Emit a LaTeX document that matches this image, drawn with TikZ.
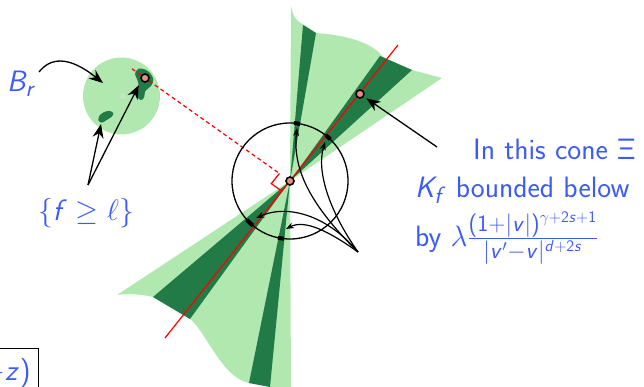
\RequirePackage{fix-cm}
\documentclass[tikz,border=0pt]{standalone}
\usepackage{amsmath}
\usetikzlibrary{arrows.meta,calc}
\DeclareMathAlphabet{\mathsfit}{OT1}{cmss}{m}{sl}
\SetSymbolFont{operators}{normal}{OT1}{cmss}{m}{n}
\DeclareMathSizes{29.5}{29.5}{23.5}{16}
\definecolor{lgreen}{RGB}{176,232,176}
\definecolor{dgreen}{RGB}{34,122,70}
\definecolor{tblue}{RGB}{60,90,245}
\definecolor{ptfill}{RGB}{230,140,140}
\tikzset{
  lbl/.style={font=\fontsize{29.5}{34}\selectfont\sffamily, text=tblue, inner sep=0pt},
  ptmark/.style={circle, draw=black, line width=1.6pt, fill=ptfill, minimum size=8pt, inner sep=0pt},
  bigarrow/.style={line width=1.3pt, -{Stealth[length=14pt,width=11pt]}},
  smallarrow/.style={line width=1.2pt, -{Stealth[length=8pt,width=6pt]}},
  thickseg/.style={line width=4pt},
  redline/.style={red, line width=1.2pt},
}
\begin{document}
\begin{tikzpicture}[x=1pt,y=-1pt]
\useasboundingbox (0,0) rectangle (644,387);
\clip (0,0) rectangle (644,387);
% coordinates
\coordinate (C) at (290,181);
\coordinate (R1) at (165,338);
\coordinate (R2) at (398,45);
\coordinate (Q) at (145,78);
\coordinate (S) at (358,252);
\coordinate (F) at (88,185);
\coordinate (T) at (437,147);
\coordinate (BrS) at (39,72);
\coordinate (BrT) at (103,83);
\coordinate (blobA) at (101,124);
\coordinate (blobB) at (139,85);
\coordinate (d1) at (297,128);
\coordinate (d2) at (325,142);
\coordinate (d3) at (256,218);
\coordinate (d4) at (286,229);
% ball B_r
\fill[lgreen] (121.5,96) circle[radius=38.5pt];
\fill[white, opacity=0.15] (123,96) circle[radius=4pt];
\draw[lgreen!80!gray, opacity=0.4, line width=0.6pt] (123,96) circle[radius=4pt];
\fill[dgreen] plot[smooth cycle] coordinates {(135.7,71.7) (139,68.5) (145,69.5) (150,73) (153.3,79) (151.7,85) (148.3,88.3) (145,91.7) (144.3,96.7) (141.7,100) (138.3,98.3) (137.7,93.3) (139,88.3) (138.3,83.3) (136.7,78.3) (135,74.3)};
\fill[dgreen] plot[smooth cycle] coordinates {(98.3,120) (100,115) (105,111.7) (110,111) (113.3,113.3) (111.7,116.7) (106.7,120) (101.7,122.7)};
% light cones
\fill[lgreen] (C) -- (291,5) .. controls (292,15) and (297,23) .. (305,25) -- (316,33)
  .. controls (345,35) and (372,42) .. (383,57) -- (412,70) -- (442,78) -- cycle;
\fill[lgreen] (C) -- (117,295) .. controls (130,293) and (145,295) .. (153,297) -- (190,319)
  .. controls (205,330) and (222,378) .. (249,383) -- (270,387) -- (291,392) -- cycle;
% dark bands
\fill[dgreen] (C) -- (303,25) -- (316,33) -- cycle;
\fill[dgreen] (C) -- (249,383) -- (270,387) -- cycle;
\fill[dgreen] (C) -- (380,56) -- (412,70) -- cycle;
\fill[dgreen] (C) -- (153,297) -- (190,319) -- cycle;
% red line and dashed perpendicular
\draw[redline] (R1) -- (R2);
\coordinate (A) at ($(C)!13pt!(Q)$);
\coordinate (B) at ($(C)!13pt!(R1)$);
\draw[redline, dash pattern=on 4pt off 3pt] ($(C)!1.09!(Q)$) -- (A);
\draw[redline] (A) -- ($(A)+(B)-(C)$) -- (B);
% circle
\draw[line width=1.3pt] (C) circle[radius=58pt];
\draw[thickseg] plot[domain=80:86,samples=7] ({290+58*cos(\x)},{181-58*sin(\x)});
\draw[thickseg] plot[domain=46:52,samples=7] ({290+58*cos(\x)},{181-58*sin(\x)});
\draw[thickseg] plot[domain=222:230,samples=7] ({290+58*cos(\x)},{181-58*sin(\x)});
\draw[thickseg] plot[domain=258:264,samples=7] ({290+58*cos(\x)},{181-58*sin(\x)});
% markers
\node[ptmark] (c) at (C) {};
\node[ptmark] (p) at (360,94) {};
\node[ptmark] (q) at (Q) {};
% arrows in the circle
\draw[smallarrow] (S) .. controls (305,200) and (293,165) .. (d1);
\draw[smallarrow] (S) .. controls (330,212) and (316,172) .. (d2);
\draw[smallarrow] (S) .. controls (330,218) and (290,203) .. (d3);
\draw[smallarrow] (S) .. controls (330,232) and (305,219) .. (d4);
% other arrows
\draw[bigarrow, shorten >=3pt] (T) -- (p);
\draw[bigarrow] (BrS) .. controls (50,58) and (68,55) .. (BrT);
\draw[bigarrow] (F) -- (blobA);
\draw[bigarrow] (F) -- (blobB);
% texts
\node[lbl, anchor=base west] (br) at (7,92) {$\mathsfit{B}_{\mathsfit{r}}$};
\node[lbl, anchor=base] (fset) at (86,220) {$\{\mathsfit{f}\geq\ell\}$};
\node[lbl, anchor=base west] (t1) at (473,160) {In this cone $\mathsf{\Xi}$};
\node[lbl, anchor=base west] (t2) at (415,197) {$\mathsfit{K}_{\mathsfit{f}}$ bounded below};
\node[lbl, anchor=base west] (t3) at (415,246) {by $\lambda\frac{(1+|\mathsfit{v}|)^{\gamma+2\mathsfit{s}+1}}{|\mathsfit{v}'-\mathsfit{v}|^{\mathsfit{d}+2\mathsfit{s}}}$};
\node[lbl, draw=black, line width=0.9pt, text=tblue, inner ysep=10pt, inner xsep=8pt, anchor=north east] (box) at (39,348) {$-\mathsfit{z})$};
\end{tikzpicture}
\end{document}
